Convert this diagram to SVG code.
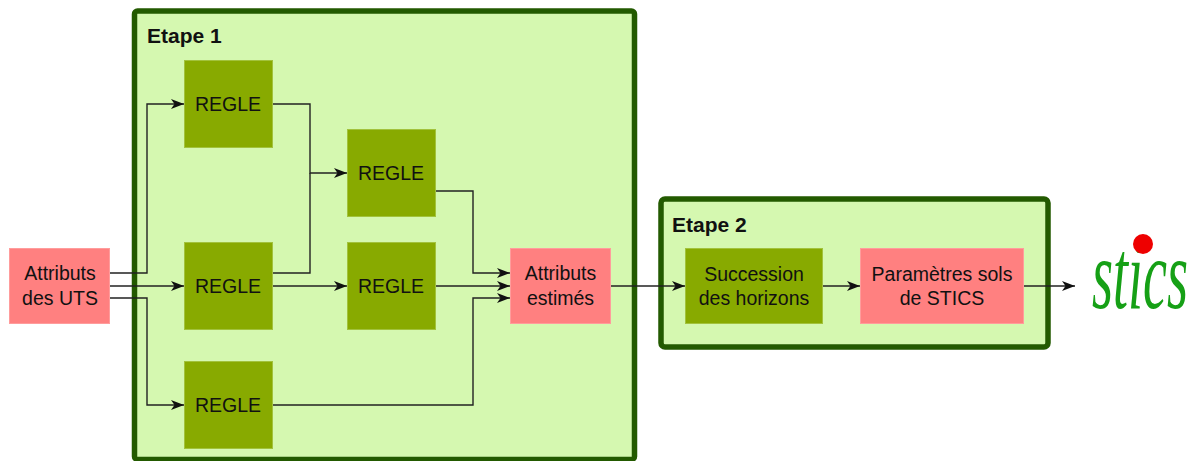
<svg xmlns="http://www.w3.org/2000/svg" width="1202" height="461" viewBox="0 0 1202 461">
<defs>
<style>
.stage{fill:#d5f8b0;stroke:#235a00;stroke-width:5.5}
.stitle{font-family:"Liberation Sans",Arial,sans-serif;font-weight:bold;font-size:21px;fill:#111}
.rule{fill:#88aa00;stroke:#a2c23c;stroke-width:1}
.data{fill:#ff8080;stroke:#ff9c9c;stroke-width:1}
.lbl{font-family:"Liberation Sans",Arial,sans-serif;font-size:19.5px;fill:#111;text-anchor:middle}
.con{fill:none;stroke:#222;stroke-width:1.4}
.arr{marker-end:url(#ah)}
</style>
<marker id="ah" markerUnits="userSpaceOnUse" markerWidth="14" markerHeight="11" refX="13" refY="5" orient="auto">
<path d="M0,0 L13,5 L0,10 L3.5,5 z" fill="#111"/>
</marker>
</defs>
<rect width="1202" height="461" fill="#ffffff"/>

<g id="etape1">
<rect class="stage" x="134.5" y="11" width="500" height="448.5" rx="3"/>
<text class="stitle" x="147" y="43">Etape 1</text>
</g>
<g id="etape2">
<rect class="stage" x="661" y="199" width="387" height="148" rx="4"/>
<text class="stitle" x="672" y="232">Etape 2</text>
</g>

<g id="connectors">
<path class="con arr" d="M110,273 H147 V104 H184"/>
<path class="con arr" d="M110,286 H184"/>
<path class="con arr" d="M110,298 H147 V405 H184"/>
<path class="con arr" d="M272,104 H310 V173 H347"/>
<path class="con" d="M272,273 H310 V173"/>
<path class="con arr" d="M272,286 H347"/>
<path class="con arr" d="M435,191 H473 V273 H510"/>
<path class="con arr" d="M435,286 H510"/>
<path class="con arr" d="M272,405 H473 V298 H510"/>
<path class="con arr" d="M611,286 H685"/>
<path class="con arr" d="M823,286 H860"/>
<path class="con arr" d="M1024,286 H1075"/>
</g>

<g id="uts">
<rect class="data" x="9.5" y="248.5" width="100" height="75"/>
<text class="lbl" x="60" y="280">Attributs</text>
<text class="lbl" x="60" y="304.5">des UTS</text>
</g>
<g id="regle1">
<rect class="rule" x="184.5" y="60.5" width="88" height="87"/>
<text class="lbl" x="228" y="111">REGLE</text>
</g>
<g id="regle2">
<rect class="rule" x="347.5" y="129.5" width="88" height="87"/>
<text class="lbl" x="391" y="180">REGLE</text>
</g>
<g id="regle3">
<rect class="rule" x="184.5" y="242.5" width="88" height="87"/>
<text class="lbl" x="228" y="293">REGLE</text>
</g>
<g id="regle4">
<rect class="rule" x="347.5" y="242.5" width="88" height="87"/>
<text class="lbl" x="391" y="293">REGLE</text>
</g>
<g id="regle5">
<rect class="rule" x="184.5" y="361.5" width="88" height="87"/>
<text class="lbl" x="228" y="412">REGLE</text>
</g>
<g id="estimes">
<rect class="data" x="510.5" y="248.5" width="100" height="75"/>
<text class="lbl" x="560.5" y="280">Attributs</text>
<text class="lbl" x="560.5" y="305">estimés</text>
</g>
<g id="succession">
<rect class="rule" x="685.5" y="248.5" width="137" height="75"/>
<text class="lbl" x="754" y="281">Succession</text>
<text class="lbl" x="754" y="305">des horizons</text>
</g>
<g id="parametres">
<rect class="data" x="860.5" y="248.5" width="163" height="75"/>
<text class="lbl" x="942" y="281">Paramètres sols</text>
<text class="lbl" x="942" y="305">de STICS</text>
</g>
<g id="stics">
<text transform="translate(1092,308) scale(0.54,1)" x="0" y="0" font-family="'Liberation Serif','DejaVu Serif',serif" font-style="italic" font-size="100" fill="#16a016">stics</text>
<circle cx="1143" cy="244" r="10" fill="#ee0000"/>
</g>
</svg>
